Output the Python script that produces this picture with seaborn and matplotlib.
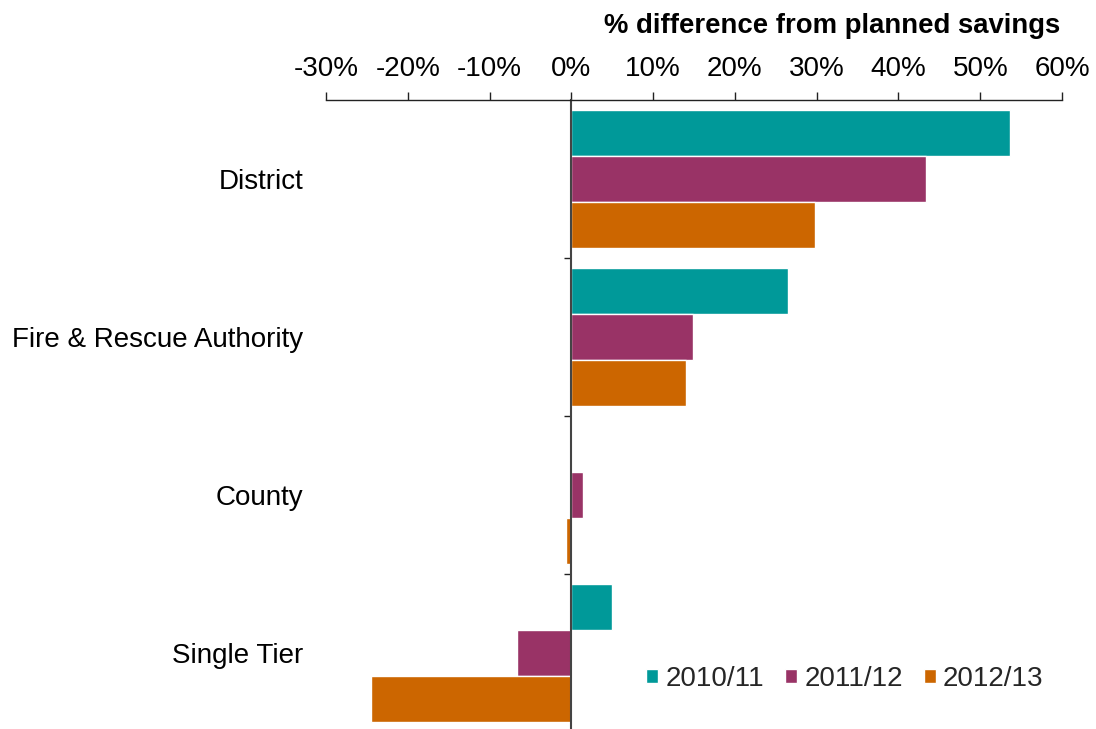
import matplotlib
matplotlib.use("Agg")
import matplotlib.pyplot as plt
import matplotlib.ticker as mticker
import seaborn as sns
import pandas as pd

categories = ["District", "Fire & Rescue Authority", "County", "Single Tier"]
years = ["2010/11", "2011/12", "2012/13"]
diff_2010_11 = [53.7, 26.5, 0.0, 5.0]
diff_2011_12 = [43.4, 14.9, 1.4, -6.6]
diff_2012_13 = [29.8, 14.0, -0.7, -24.5]
colors = ["#009999", "#993366", "#CC6600"]
xticks = [-30, -20, -10, 0, 10, 20, 30, 40, 50, 60]

rows = []
for yr, vals in zip(years, [diff_2010_11, diff_2011_12, diff_2012_13]):
    for cat, v in zip(categories, vals):
        rows.append({"category": cat, "year": yr, "value": v})
df = pd.DataFrame(rows)

sns.set_theme(style="white")
plt.rcParams["font.family"] = ["Liberation Sans", "DejaVu Sans"]

fig = plt.figure(figsize=(10.96, 7.29), dpi=100)
ax = fig.add_axes([0.2974, -0.0041, 0.6716, 0.8669])

sns.barplot(data=df, x="value", y="category", hue="year", order=categories,
            hue_order=years, palette=colors, orient="h", width=0.87,
            edgecolor="white", linewidth=1.0, saturation=1, ax=ax)

ax.set_xlim(-30, 60)
ax.set_ylim(3.5, -0.5)
ax.set_xlabel("")
ax.set_ylabel("")

# percent axis along the top
ax.xaxis.tick_top()
ax.set_xticks(xticks)
ax.xaxis.set_major_formatter(mticker.FuncFormatter(lambda v, p: f"{v:.0f}%"))
ax.tick_params(axis="x", which="major", direction="out", length=6, width=1,
               color="#222222", labelsize=20, pad=7, labelcolor="black")

fig.text(0.967, 0.965, "% difference from planned savings", ha="right",
         va="center", fontsize=19.8, fontweight="bold", color="black")

# category axis sits at zero, with group separators as small ticks
for s in ["right", "bottom"]:
    ax.spines[s].set_visible(False)
ax.spines["top"].set_color("#222222")
ax.spines["top"].set_linewidth(1)
ax.spines["left"].set_position(("data", 0))
ax.spines["left"].set_color("#444444")
ax.spines["left"].set_linewidth(1.5)
ax.set_yticks([0.5, 1.5, 2.5], minor=True)
ax.tick_params(axis="y", which="major", length=0, pad=193, labelsize=20,
               labelcolor="black")
ax.tick_params(axis="y", which="minor", left=True, direction="out", length=5,
               width=1, color="#222222")

leg = ax.legend(loc="center right", bbox_to_anchor=(0.99, 0.084), ncol=3,
                frameon=False, fontsize=20, handlelength=0.45,
                handleheight=0.45, handletextpad=0.25, columnspacing=0.75,
                borderaxespad=0)
for h in leg.legend_handles:
    h.set_edgecolor("white")

fig.savefig("out.png", dpi=100)
